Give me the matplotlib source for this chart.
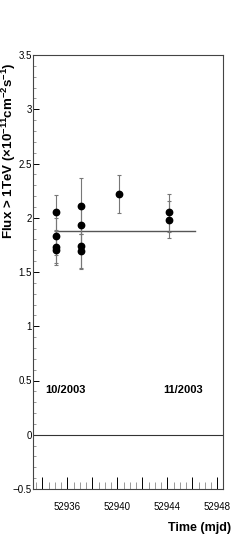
import matplotlib
matplotlib.use("Agg")
import matplotlib.pyplot as plt
from matplotlib.ticker import MultipleLocator, FuncFormatter

# flux points (mjd, flux above 1 TeV in 1e-11 cm^-2 s^-1)
mjd = [52935.1, 52935.1, 52935.1, 52935.1,
       52937.1, 52937.1, 52937.1, 52937.1,
       52940.1,
       52944.1, 52944.1]
flux = [2.05, 1.83, 1.73, 1.70,
        2.11, 1.93, 1.74, 1.69,
        2.22,
        2.05, 1.98]
flux_err_lo = [0.16, 0.17, 0.15, 0.14,
               0.26, 0.20, 0.20, 0.16,
               0.175,
               0.18, 0.17]
flux_err_hi = [0.16, 0.17, 0.15, 0.14,
               0.26, 0.20, 0.20, 0.16,
               0.175,
               0.17, 0.17]

fit_level = 1.88
fit_range = [52935.0, 52946.2]

month_labels = ["10/2003", "11/2003"]
month_x = [52934.2, 52943.7]
month_y = 0.41

plt.rcParams['font.family'] = ['Liberation Sans', 'DejaVu Sans']
plt.rcParams['mathtext.fontset'] = 'custom'
plt.rcParams['mathtext.rm'] = 'Liberation Sans:bold'
plt.rcParams['mathtext.it'] = 'Liberation Sans:bold'
plt.rcParams['mathtext.bf'] = 'Liberation Sans:bold'

fig = plt.figure(figsize=(2.49, 5.45), dpi=100)
ax = fig.add_axes([33/249, 1-489/545, 190/249, 434/545])

ax.errorbar(mjd, flux, yerr=[flux_err_lo, flux_err_hi], fmt='o', color='black',
            ms=4.6, ecolor='#777777', elinewidth=0.8, capsize=1.5, capthick=0.8, zorder=3)
ax.plot(fit_range, [fit_level, fit_level], color='#555555', lw=1.0, zorder=2)
ax.axhline(0, color='#333333', lw=0.8)

for lab, xx in zip(month_labels, month_x):
    ax.text(xx, month_y, lab, fontsize=8, fontweight='bold', ha='left', va='center')

ax.set_xlim(52933.26, 52948.45)
ax.set_ylim(-0.5, 3.5)

ax.xaxis.set_major_locator(MultipleLocator(2))
ax.xaxis.set_minor_locator(MultipleLocator(0.5))
ax.xaxis.set_major_formatter(FuncFormatter(lambda v, p: "%d" % v if int(round(v)) % 4 == 0 else ""))
ax.yaxis.set_major_locator(MultipleLocator(0.5))
ax.yaxis.set_minor_locator(MultipleLocator(0.1))
ax.yaxis.set_major_formatter(FuncFormatter(lambda v, p: ("%g" % v).replace("-", "\u2212")))

ax.tick_params(axis='x', which='major', direction='in', length=9, width=0.7, labelsize=7, pad=9)
ax.tick_params(axis='x', which='minor', direction='in', length=5, width=0.6, color='#888888')
ax.tick_params(axis='y', which='major', direction='in', length=4, width=0.7, labelsize=7, pad=1)
ax.tick_params(axis='y', which='minor', direction='in', length=2, width=0.6, color='#888888')
ax.tick_params(top=False, right=False)

for sp in ax.spines.values():
    sp.set_linewidth(0.8)
    sp.set_color('#444444')

fig.text(9/249, 1-62/545, r"Flux > 1TeV ($\times$10$^{-11}$cm$^{-2}$s$^{-1}$)",
         rotation=90, ha='center', va='top', fontsize=9.6, fontweight='bold')
fig.text(231/249, 1-528/545, "Time (mjd)", ha='right', va='center',
         fontsize=9, fontweight='bold')

fig.savefig("out.png", dpi=100)
